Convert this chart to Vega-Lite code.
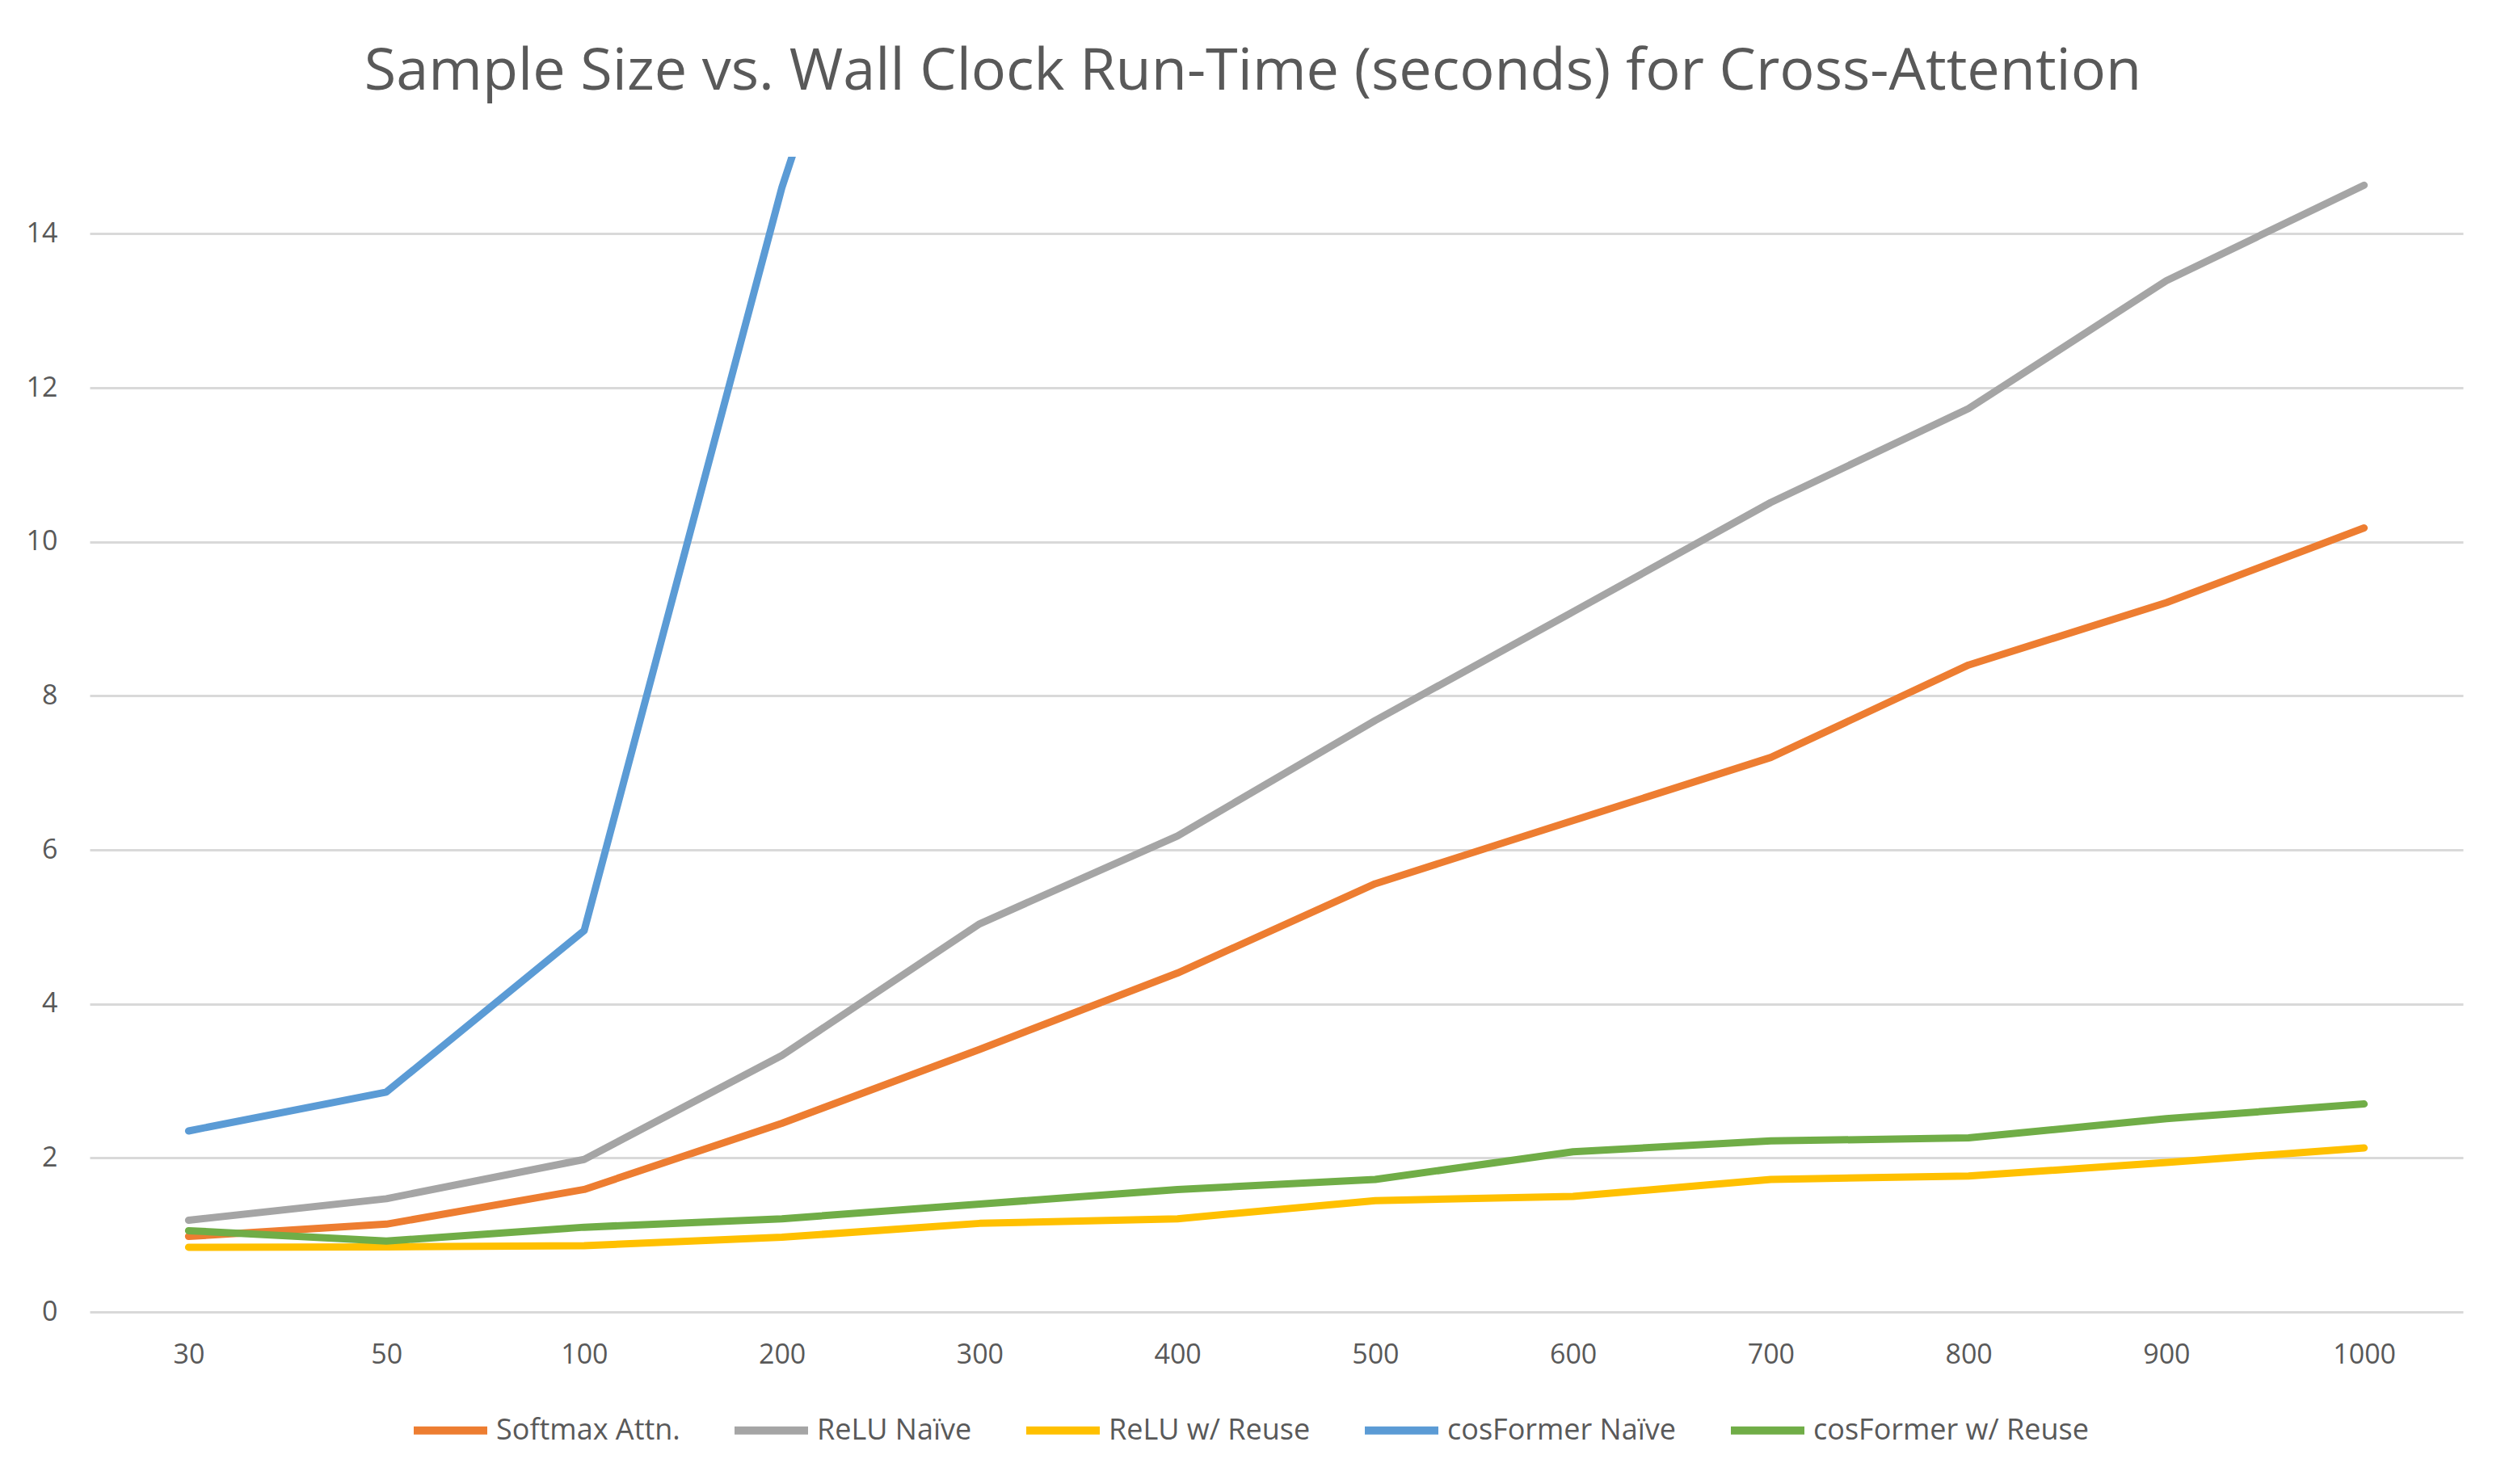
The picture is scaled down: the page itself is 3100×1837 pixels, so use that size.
{
  "$schema": "https://vega.github.io/schema/vega-lite/v6.json",
  "width": 2937,
  "height": 1430,
  "autosize": {"type": "none"},
  "padding": {"left": 111, "top": 194, "right": 52, "bottom": 213},
  "background": "white",
  "title": {
    "text": "Sample Size vs. Wall Clock Run-Time (seconds) for Cross-Attention",
    "font": "Open Sans",
    "fontSize": 72,
    "fontWeight": "normal",
    "color": "#595959",
    "anchor": "middle",
    "offset": 68,
    "dx": -29
  },
  "data": {
    "values": [
      {"method": "Softmax Attn.", "size": 30, "seconds": 0.98},
      {"method": "Softmax Attn.", "size": 50, "seconds": 1.14},
      {"method": "Softmax Attn.", "size": 100, "seconds": 1.59},
      {"method": "Softmax Attn.", "size": 200, "seconds": 2.45},
      {"method": "Softmax Attn.", "size": 300, "seconds": 3.41},
      {"method": "Softmax Attn.", "size": 400, "seconds": 4.40},
      {"method": "Softmax Attn.", "size": 500, "seconds": 5.56},
      {"method": "Softmax Attn.", "size": 600, "seconds": 6.38},
      {"method": "Softmax Attn.", "size": 700, "seconds": 7.20},
      {"method": "Softmax Attn.", "size": 800, "seconds": 8.40},
      {"method": "Softmax Attn.", "size": 900, "seconds": 9.21},
      {"method": "Softmax Attn.", "size": 1000, "seconds": 10.18},
      {"method": "ReLU Naïve", "size": 30, "seconds": 1.19},
      {"method": "ReLU Naïve", "size": 50, "seconds": 1.47},
      {"method": "ReLU Naïve", "size": 100, "seconds": 1.98},
      {"method": "ReLU Naïve", "size": 200, "seconds": 3.33},
      {"method": "ReLU Naïve", "size": 300, "seconds": 5.04},
      {"method": "ReLU Naïve", "size": 400, "seconds": 6.18},
      {"method": "ReLU Naïve", "size": 500, "seconds": 7.68},
      {"method": "ReLU Naïve", "size": 600, "seconds": 9.09},
      {"method": "ReLU Naïve", "size": 700, "seconds": 10.51},
      {"method": "ReLU Naïve", "size": 800, "seconds": 11.73},
      {"method": "ReLU Naïve", "size": 900, "seconds": 13.39},
      {"method": "ReLU Naïve", "size": 1000, "seconds": 14.63},
      {"method": "ReLU w/ Reuse", "size": 30, "seconds": 0.84},
      {"method": "ReLU w/ Reuse", "size": 50, "seconds": 0.845},
      {"method": "ReLU w/ Reuse", "size": 100, "seconds": 0.86},
      {"method": "ReLU w/ Reuse", "size": 200, "seconds": 0.97},
      {"method": "ReLU w/ Reuse", "size": 300, "seconds": 1.15},
      {"method": "ReLU w/ Reuse", "size": 400, "seconds": 1.21},
      {"method": "ReLU w/ Reuse", "size": 500, "seconds": 1.445},
      {"method": "ReLU w/ Reuse", "size": 600, "seconds": 1.50},
      {"method": "ReLU w/ Reuse", "size": 700, "seconds": 1.72},
      {"method": "ReLU w/ Reuse", "size": 800, "seconds": 1.765},
      {"method": "ReLU w/ Reuse", "size": 900, "seconds": 1.94},
      {"method": "ReLU w/ Reuse", "size": 1000, "seconds": 2.13},
      {"method": "cosFormer Naïve", "size": 30, "seconds": 2.35},
      {"method": "cosFormer Naïve", "size": 50, "seconds": 2.855},
      {"method": "cosFormer Naïve", "size": 100, "seconds": 4.95},
      {"method": "cosFormer Naïve", "size": 200, "seconds": 14.6},
      {"method": "cosFormer Naïve", "size": 300, "seconds": 22.4},
      {"method": "cosFormer w/ Reuse", "size": 30, "seconds": 1.055},
      {"method": "cosFormer w/ Reuse", "size": 50, "seconds": 0.92},
      {"method": "cosFormer w/ Reuse", "size": 100, "seconds": 1.10},
      {"method": "cosFormer w/ Reuse", "size": 200, "seconds": 1.21},
      {"method": "cosFormer w/ Reuse", "size": 300, "seconds": 1.40},
      {"method": "cosFormer w/ Reuse", "size": 400, "seconds": 1.59},
      {"method": "cosFormer w/ Reuse", "size": 500, "seconds": 1.72},
      {"method": "cosFormer w/ Reuse", "size": 600, "seconds": 2.08},
      {"method": "cosFormer w/ Reuse", "size": 700, "seconds": 2.22},
      {"method": "cosFormer w/ Reuse", "size": 800, "seconds": 2.26},
      {"method": "cosFormer w/ Reuse", "size": 900, "seconds": 2.51},
      {"method": "cosFormer w/ Reuse", "size": 1000, "seconds": 2.70}
    ]
  },
  "mark": {
    "type": "line",
    "strokeWidth": 9,
    "strokeCap": "round",
    "strokeJoin": "round",
    "clip": true
  },
  "encoding": {
    "x": {
      "field": "size",
      "type": "ordinal",
      "scale": {"domain": [30, 50, 100, 200, 300, 400, 500, 600, 700, 800, 900, 1000]},
      "axis": {
        "title": null,
        "labelAngle": 0,
        "labelFont": "Open Sans",
        "labelFontSize": 34,
        "labelColor": "#595959",
        "labelPadding": 36,
        "ticks": false,
        "tickSize": 0,
        "domain": false,
        "grid": false
      }
    },
    "y": {
      "field": "seconds",
      "type": "quantitative",
      "scale": {"domain": [0, 15], "nice": false},
      "axis": {
        "title": null,
        "values": [0, 2, 4, 6, 8, 10, 12, 14],
        "labelFont": "Open Sans",
        "labelFontSize": 34,
        "labelColor": "#595959",
        "labelPadding": 40,
        "ticks": false,
        "tickSize": 0,
        "domain": false,
        "grid": true,
        "gridColor": "#d9d9d9",
        "gridWidth": 3
      }
    },
    "color": {
      "field": "method",
      "type": "nominal",
      "scale": {
        "domain": ["Softmax Attn.", "ReLU Naïve", "ReLU w/ Reuse", "cosFormer Naïve", "cosFormer w/ Reuse"],
        "range": ["#ED7D31", "#A5A5A5", "#FFC000", "#5B9BD5", "#70AD47"]
      },
      "legend": {
        "title": null,
        "orient": "none",
        "legendX": 396,
        "legendY": 1526,
        "direction": "horizontal",
        "symbolType": "stroke",
        "symbolSize": 8281,
        "symbolStrokeWidth": 10,
        "labelFont": "Open Sans",
        "labelFontSize": 36,
        "labelColor": "#595959",
        "labelOffset": 6,
        "labelLimit": 0,
        "columnPadding": 47
      }
    }
  },
  "config": {
    "view": {"stroke": null}
  }
}
